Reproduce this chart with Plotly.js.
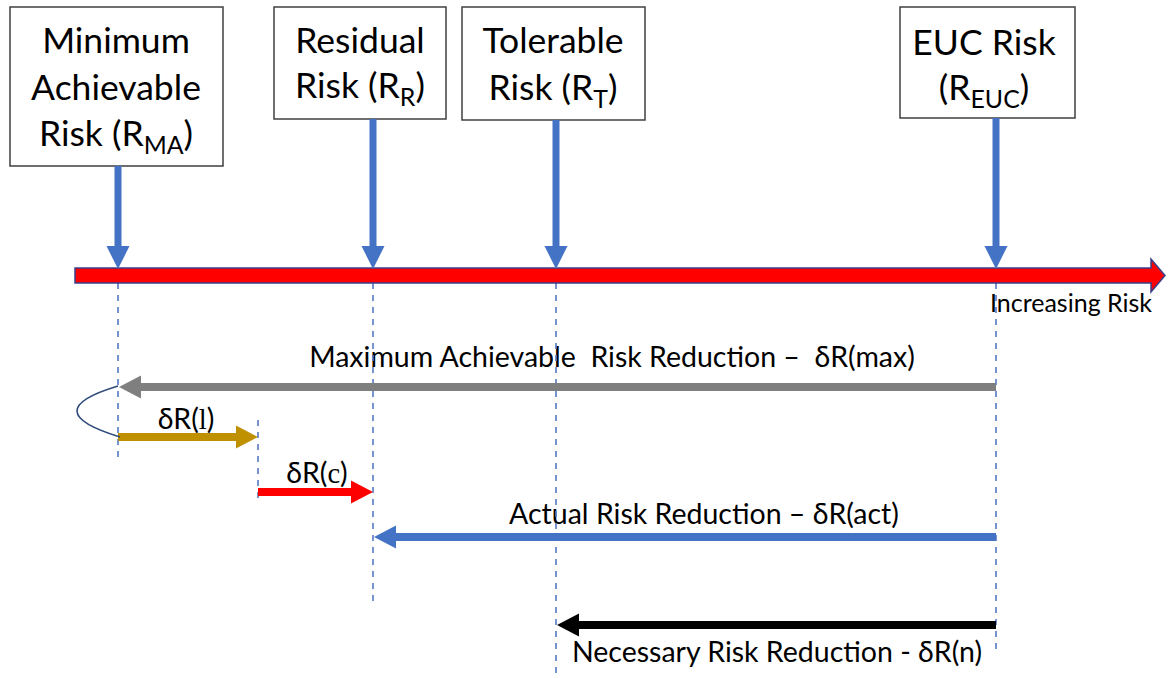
<!DOCTYPE html>
<html>
<head>
<meta charset="utf-8">
<script src="https://cdn.plot.ly/plotly-3.0.1.min.js"></script>
<style>
  html, body { margin: 0; padding: 0; background: #ffffff; }
  #chart { width: 1170px; height: 678px; }
</style>
</head>
<body>
<div id="chart"></div>
<script>
// ---------------- data ----------------
const levelNames = ['Minimum Achievable Risk', 'Residual Risk', 'Tolerable Risk', 'EUC Risk'];
const levelLabelLines = [
  ['Minimum', 'Achievable', 'Risk (R<sub>MA</sub>)'],
  ['Residual', 'Risk (R<sub>R</sub>)'],
  ['Tolerable', 'Risk (R<sub>T</sub>)'],
  ['EUC Risk', '(R<sub>EUC</sub>)']
];
const levelX = [118, 373, 556, 996];          // position of each risk level on the risk axis
const partialX = 258;                          // split between δR(l) and δR(c)
const axisLabel = 'Increasing Risk';

const reductionLabels = [
  'Maximum Achievable  Risk Reduction \u2013  \u03B4R(max)',
  '\u03B4R(<span style="font-family:\'Liberation Serif\', serif">l</span>)',
  '\u03B4R(<span style="font-family:\'Liberation Serif\', serif">c</span>)',
  'Actual Risk Reduction \u2013 \u03B4R(act)',
  'Necessary Risk Reduction - \u03B4R(n)'
];
const reductionFrom = [levelX[3], levelX[0], partialX, levelX[3], levelX[3]];
const reductionTo   = [levelX[0], partialX, levelX[1], levelX[1], levelX[2]];

// ---------------- layout / style ----------------
const FONT = 'Lato, "Open Sans", "DejaVu Sans", sans-serif';
const BLUE = '#4472C4';
const reductionColors = ['#7F7F7F', '#BF9000', '#FF0000', '#4472C4', '#000000'];
const reductionRowY = [387, 437, 492, 537, 625];
const reductionLabelX = [612, 186, 317, 704, 777];
const reductionLabelBase = [370, 432, 486, 527, 665];
const reductionFontSize = 28.5;

const boxes = [[10, 223, 7, 166], [274, 446, 7, 119], [462, 645, 7, 120], [900, 1075, 7, 118]];
const boxTextX = [116, 360, 553, 984];
const boxBaselines = [[57, 104, 150], [57, 102], [57, 104], [59, 104]];
const boxFontSize = 35.5;
const dashEnds = [458, 607, 678, 650];

const axisY0 = 268, axisY1 = 283, axisX0 = 75, axisHeadX = 1151, axisTipX = 1165, axisHeadHalf = 16.5;

const shapes = [];
const traces = [];

// dashed guide lines
levelX.forEach((x, i) => {
  shapes.push({type: 'line', xref: 'x', yref: 'y', x0: x, x1: x, y0: axisY1, y1: dashEnds[i],
    line: {color: '#5578C4', width: 1.6, dash: '6px,6px'}});
});
shapes.push({type: 'line', xref: 'x', yref: 'y', x0: partialX, x1: partialX, y0: 420, y1: 503,
  line: {color: '#5578C4', width: 1.6, dash: '6px,6px'}});

// level boxes (below the text)
boxes.forEach(b => {
  shapes.push({type: 'rect', layer: 'below', xref: 'x', yref: 'y', x0: b[0], x1: b[1], y0: b[2], y1: b[3],
    line: {color: '#404040', width: 1.5}, fillcolor: '#ffffff'});
});

// main risk axis (red band with arrow head)
const cy = (axisY0 + axisY1) / 2;
shapes.push({type: 'path', xref: 'x', yref: 'y',
  path: `M${axisX0},${axisY0} L${axisHeadX},${axisY0} L${axisHeadX},${cy - axisHeadHalf} L${axisTipX},${cy} ` +
        `L${axisHeadX},${cy + axisHeadHalf} L${axisHeadX},${axisY1} L${axisX0},${axisY1} Z`,
  fillcolor: '#FF0000', line: {color: '#3B3F8A', width: 1.5}});

// blue down arrows from boxes to the axis
levelX.forEach((x, i) => {
  const top = boxes[i][3];
  const headTop = 246, tip = axisY0 + 1, half = 11.5;
  shapes.push({type: 'line', xref: 'x', yref: 'y', x0: x, x1: x, y0: top, y1: headTop + 1,
    line: {color: BLUE, width: 7}});
  shapes.push({type: 'path', xref: 'x', yref: 'y',
    path: `M${x - half},${headTop} L${x + half},${headTop} L${x},${tip} Z`,
    fillcolor: BLUE, line: {width: 0}});
});

// reduction arrows
reductionFrom.forEach((x0, i) => {
  const x1 = reductionTo[i];
  const y = reductionRowY[i];
  const dir = Math.sign(x1 - x0);
  const headLen = 22, half = 11.5;
  const tip = x1 + (dir > 0 ? 0 : 1);
  const base = tip - dir * headLen;
  shapes.push({type: 'line', xref: 'x', yref: 'y', x0: x0, x1: base + dir * 1, y0: y, y1: y,
    line: {color: reductionColors[i], width: 8}});
  shapes.push({type: 'path', xref: 'x', yref: 'y',
    path: `M${base},${y - half} L${tip},${y} L${base},${y + half} Z`,
    fillcolor: reductionColors[i], line: {width: 0}});
});

// loop connecting δR(max) to δR(l)
shapes.push({type: 'path', xref: 'x', yref: 'y',
  path: `M${levelX[0]},${reductionRowY[0] - 1} Q35,411 ${levelX[0] + 2},${reductionRowY[1]}`,
  line: {color: '#2E4A7A', width: 1.6}, fillcolor: 'rgba(0,0,0,0)'});

// ---------------- texts ----------------
function textTrace(xs, ys, texts, size) {
  return {type: 'scatter', mode: 'text', x: xs, y: ys, text: texts,
    textposition: 'middle center', hoverinfo: 'skip', showlegend: false,
    textfont: {family: FONT, size: size, color: '#000000'}, cliponaxis: false};
}
// box labels
const bx = [], by = [], bt = [];
levelLabelLines.forEach((lines, i) => {
  lines.forEach((ln, j) => {
    bx.push(boxTextX[i]); by.push(boxBaselines[i][j] - 0.35 * boxFontSize); bt.push(ln);
  });
});
traces.push(textTrace(bx, by, bt, boxFontSize));
// reduction labels
traces.push(textTrace(reductionLabelX,
  reductionLabelBase.map(b => b - 0.35 * reductionFontSize), reductionLabels, reductionFontSize));
// axis label
traces.push(textTrace([1071], [314 - 0.35 * 25], [axisLabel], 25));

const layout = {
  width: 1170, height: 678,
  margin: {l: 0, r: 0, t: 0, b: 0, pad: 0},
  paper_bgcolor: '#ffffff', plot_bgcolor: '#ffffff',
  xaxis: {range: [0, 1170], visible: false, fixedrange: true},
  yaxis: {range: [678, 0], visible: false, fixedrange: true},
  shapes: shapes,
  showlegend: false
};
Plotly.newPlot('chart', traces, layout, {displayModeBar: false, staticPlot: true});
</script>
</body>
</html>
